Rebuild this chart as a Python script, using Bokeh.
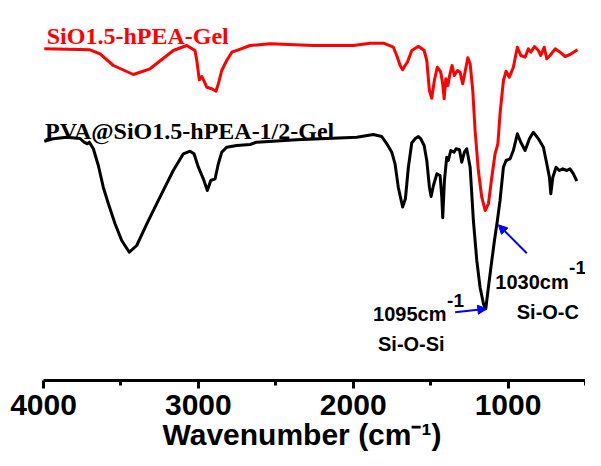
from bokeh.plotting import figure
from bokeh.models import Range1d, FixedTicker, Label, Arrow, NormalHead
from bokeh.embed import file_html
from bokeh.resources import INLINE

# ---- data (wavenumber in cm-1, transmittance in arbitrary units, offset spectra) ----
red_wn = [3995, 3700, 3635, 3549, 3420, 3312, 3162, 3075, 3022, 3010,
          2994, 2978, 2963, 2946, 2914, 2886, 2871, 2849, 2817, 2784,
          2742, 2666, 2537, 2257, 1999, 1891, 1805, 1741, 1719, 1697,
          1681, 1665, 1650, 1622, 1579, 1542, 1525, 1508, 1493, 1476,
          1457, 1435, 1422, 1413, 1402, 1389, 1375, 1362, 1347, 1327,
          1310, 1293, 1278, 1260, 1245, 1228, 1213, 1192, 1170, 1148,
          1127, 1105, 1084, 1066, 1052, 1030, 1013, 992, 966, 940,
          918, 890, 869, 853, 830, 804, 789, 767, 750, 729,
          696, 664, 632, 600, 552]
red_t = [331.7, 330.7, 326.7, 315, 306, 311.7, 330, 335, 330, 320,
         300.7, 304, 299.3, 293.3, 291.7, 289.3, 296.7, 310, 320, 328.3,
         330.7, 335, 336.7, 335, 335, 337.3, 337.3, 333.3, 325, 315,
         310.7, 315, 318.3, 330, 334.3, 330, 320, 290, 282.3, 300,
         313.3, 308.3, 296.7, 281.7, 301.7, 295, 306.7, 315, 305, 310,
         308.3, 296.7, 308.3, 322.7, 316.7, 290, 250, 210, 183.3, 170,
         176.7, 203.3, 226.7, 236.7, 266.7, 300, 309.3, 303.3, 313.3, 333.3,
         325, 323.3, 331.7, 328.3, 334, 330, 325, 333.3, 321.7, 325,
         331.7, 328.3, 324, 326, 330.7]

blk_wn = [3995, 3937, 3850, 3764, 3738, 3717, 3704, 3678, 3646, 3614,
          3581, 3538, 3495, 3446, 3398, 3333, 3248, 3162, 3097, 3054,
          3028, 3000, 2968, 2942, 2920, 2892, 2871, 2849, 2817, 2752,
          2666, 2623, 2365, 1977, 1870, 1816, 1783, 1751, 1730, 1709,
          1681, 1663, 1644, 1622, 1601, 1579, 1564, 1542, 1525, 1508,
          1497, 1482, 1460, 1439, 1428, 1422, 1411, 1396, 1386, 1370,
          1349, 1336, 1314, 1299, 1282, 1267, 1245, 1224, 1202, 1181,
          1159, 1144, 1127, 1105, 1088, 1069, 1052, 1030, 1013, 987,
          966, 940, 918, 890, 862, 837, 804, 772, 750, 733,
          724, 711, 690, 669, 647, 621, 600, 578, 556]
blk_t = [239.3, 241.7, 243.3, 242, 238.3, 236.7, 238.3, 231.7, 215, 193.3,
         176.7, 156.7, 140, 128.3, 135, 156.7, 183.3, 210, 226.7, 229.3,
         226.7, 213.3, 201.7, 190, 200, 201.7, 216.7, 228.3, 233.3, 235,
         236, 238.3, 240.7, 243.3, 246, 244, 236.7, 228.3, 216.7, 193.3,
         173.5, 181.7, 213, 237.5, 241.7, 244, 241.7, 235, 220, 193.3,
         184, 195, 206.7, 205, 183.3, 162.7, 200, 223.3, 220, 230,
         228.3, 231.7, 230.7, 218.3, 228.3, 231.7, 213.3, 160, 120, 93.3,
         76.7, 71.7, 93.3, 120, 140, 160, 180, 213.3, 220, 221.7,
         230, 246.7, 238.3, 230, 241.7, 248.3, 241.7, 233.3, 216.7, 203.3,
         186.7, 203.3, 213.3, 210, 211.7, 210, 211.7, 206.7, 199.3]

major_ticks = [4000, 3000, 2000, 1000]
minor_ticks = [3500, 2500, 1500, 500]
series_names = ["SiO1.5-hPEA-Gel", "PVA@SiO1.5-hPEA-1/2-Gel"]
x_title = "Wavenumber (cm\u207b\u00b9)"

p = figure(frame_width=542, frame_height=380, output_backend="svg",
           toolbar_location=None,
           x_range=Range1d(4000, 500), y_range=Range1d(0, 380),
           min_border_left=43, min_border_right=0, min_border_top=0,
           min_border_bottom=0)
p.background_fill_color = "white"
p.border_fill_color = "white"
p.outline_line_color = None
p.xgrid.visible = False
p.ygrid.visible = False
p.yaxis.visible = False

p.line(red_wn, red_t, line_color="#ff0000", line_width=3, line_join="round")
p.line(blk_wn, blk_t, line_color="black", line_width=3, line_join="round")

ax = p.xaxis[0]
ax.ticker = FixedTicker(ticks=major_ticks, minor_ticks=minor_ticks)
ax.major_label_text_font = "Liberation Sans"
ax.major_label_text_font_style = "bold"
ax.major_label_text_font_size = "30px"
ax.major_label_text_color = "black"
ax.axis_line_width = 3
ax.axis_line_color = "black"
ax.major_tick_line_width = 3
ax.minor_tick_line_width = 3
ax.major_tick_out = 8
ax.major_tick_in = 0
ax.minor_tick_out = 5
ax.minor_tick_in = 0
ax.major_label_standoff = 6
# trailing no-break spaces nudge the centred title slightly left, as in the original
ax.axis_label = x_title + "\u00a0\u00a0\u00a0"
ax.axis_label_text_font = "Liberation Sans"
ax.axis_label_text_font_style = "bold"
ax.axis_label_text_font_size = "30px"
ax.axis_label_text_color = "black"
ax.axis_label_standoff = 0

def lab(x, y, text, size, color="black", font="Liberation Sans"):
    p.add_layout(Label(x=x, y=y, text=text, text_font=font, text_font_style="bold",
                       text_font_size=size, text_color=color,
                       text_baseline="alphabetic", text_align="left"))

# series names
lab(3979, 345, series_names[0], "24px", "#ff0000", "Liberation Serif")
lab(3990, 250, series_names[1], "24px", "black", "Liberation Serif")

# peak annotations
lab(1872, 67, "1095cm", "20px")
lab(1394, 80, "-1", "19px")
lab(1840, 36.7, "Si-O-Si", "20px")
lab(1082, 98.3, "1030cm", "20px")
lab(606, 113, "-1", "19px")
lab(944, 68.3, "Si-O-C", "20px")

p.add_layout(Arrow(end=NormalHead(size=9, fill_color="blue", line_color="blue"),
                   x_start=1342, y_start=68.3, x_end=1137, y_end=71.7,
                   line_color="blue", line_width=2))
p.add_layout(Arrow(end=NormalHead(size=9, fill_color="blue", line_color="blue"),
                   x_start=879, y_start=127.3, x_end=1063, y_end=155.7,
                   line_color="blue", line_width=2))

open("out.html", "w").write(file_html(p, INLINE))
